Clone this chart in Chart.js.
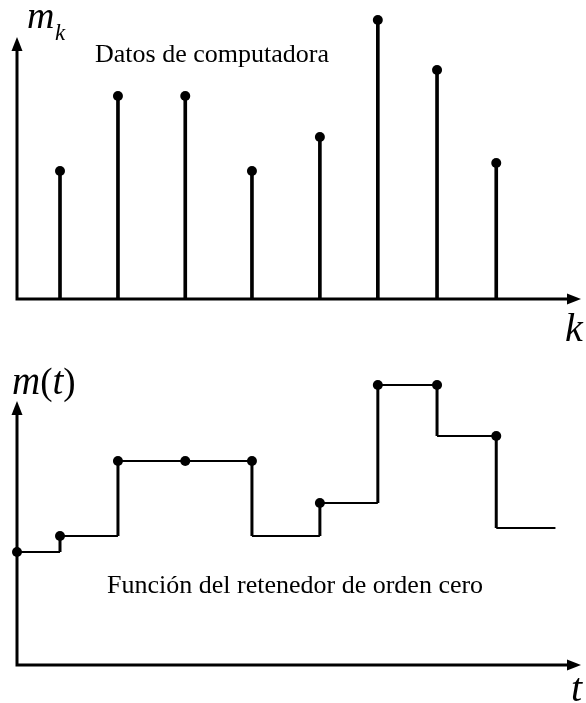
<!DOCTYPE html>
<html>
<head>
<meta charset="utf-8">
<script src="https://cdn.jsdelivr.net/npm/chart.js@4.4.0/dist/chart.umd.min.js"></script>
<style>
  body { margin: 0; background: #fff; }
  canvas { position: absolute; left: 0; }
  #topChart { top: 0; }
  #holdChart { top: 350px; }
</style>
</head>
<body>
<canvas id="topChart" width="586" height="350"></canvas>
<canvas id="holdChart" width="586" height="353"></canvas>
<script>
// muestras de la computadora (instante k, valor m_k)
const sampleT = [0.69, 1.62, 2.70, 3.77, 4.86, 5.79, 6.74, 7.69]
const sampleM = [6.4, 10.15, 10.15, 6.4, 8.1, 13.95, 11.45, 6.8]

// retenedor de orden cero: instantes y nivel mantenido desde cada instante
const holdT = [0, 0.69, 1.62, 2.70, 3.77, 4.86, 5.79, 6.74, 7.69, 8.64]
const holdM = [5.65, 6.45, 10.2, 10.2, 6.45, 8.1, 14.0, 11.45, 6.85, 6.85]
// puntos marcados en la curva (tal como aparecen en el dibujo)
const holdDotM = [5.65, 6.45, 10.2, 10.2, 10.2, 8.1, 14.0, 14.0, 11.45]

const serif = "'Liberation Serif', 'Times New Roman', serif"

// escalera: tramo horizontal y luego salto vertical
const stepPoints = []
holdT.forEach((t, i) => {
    if (i > 0) stepPoints.push({ x: t, y: holdM[i - 1] })
    stepPoints.push({ x: t, y: holdM[i] })
})

const axesArrows = {
    id: 'axesArrows',
    beforeDatasetsDraw(chart, args, opts) {
        const ctx = chart.ctx
        const x0 = chart.scales.x.getPixelForValue(0)
        const y0 = chart.scales.y.getPixelForValue(0)
        const xTip = chart.scales.x.getPixelForValue(opts.xTip)
        const yTip = chart.scales.y.getPixelForValue(opts.yTip)
        ctx.save()
        ctx.strokeStyle = '#000'
        ctx.fillStyle = '#000'
        ctx.lineWidth = 3
        ctx.beginPath()
        ctx.moveTo(x0 - 1.5, y0)
        ctx.lineTo(xTip - 10, y0)
        ctx.moveTo(x0, y0)
        ctx.lineTo(x0, yTip + 10)
        ctx.stroke()
        ctx.beginPath()
        ctx.moveTo(xTip, y0)
        ctx.lineTo(xTip - 14, y0 - 5.5)
        ctx.lineTo(xTip - 14, y0 + 5.5)
        ctx.closePath()
        ctx.fill()
        ctx.beginPath()
        ctx.moveTo(x0, yTip)
        ctx.lineTo(x0 - 5.5, yTip + 14)
        ctx.lineTo(x0 + 5.5, yTip + 14)
        ctx.closePath()
        ctx.fill()
        ctx.restore()
    },
    afterDraw(chart, args, opts) {
        const ctx = chart.ctx
        ctx.save()
        ctx.fillStyle = '#000'
        ctx.textBaseline = 'alphabetic'
        opts.labels.forEach(l => {
            // cada etiqueta puede ir en varios tramos (cursiva / recta)
            let x = l.x
            l.runs.forEach(r => {
                ctx.font = r[1]
                ctx.fillText(r[0], x, l.y)
                x += ctx.measureText(r[0]).width
            })
        })
        ctx.restore()
    }
}

const baseOptions = (padding, tips, labels) => ({
    responsive: false,
    animation: false,
    events: [],
    layout: { padding },
    scales: {
        x: { type: 'linear', min: 0, max: 9.05, offset: false, display: false },
        y: { type: 'linear', min: 0, max: 14.5, display: false }
    },
    plugins: {
        legend: { display: false },
        tooltip: { enabled: false },
        axesArrows: { xTip: tips[0], yTip: tips[1], labels }
    }
})

const it = 'italic 39px ' + serif
const up = '37px ' + serif

new Chart(document.getElementById('topChart'), {
    type: 'bar',
    data: {
        datasets: [{
            type: 'line',
            data: sampleT.map((t, i) => ({ x: t, y: sampleM[i] })),
            showLine: false,
            pointRadius: 5,
            pointBackgroundColor: '#000',
            pointBorderWidth: 0,
            clip: false
        }, {
            data: sampleT.map((t, i) => ({ x: t, y: sampleM[i] })),
            backgroundColor: '#000',
            borderWidth: 0,
            barThickness: 3,
            grouped: false,
            clip: false
        }]
    },
    options: baseOptions({ left: 17, right: 5, top: 9, bottom: 51 }, [9.05, 13.1], [
        { x: 27, y: 28, runs: [['m', 'italic 38px ' + serif]] },
        { x: 55, y: 40, runs: [['k', 'italic 23px ' + serif]] },
        { x: 95, y: 62, runs: [['Datos de computadora', '26px ' + serif]] },
        { x: 565, y: 341, runs: [['k', 'italic 40px ' + serif]] }
    ]),
    plugins: [axesArrows]
})

new Chart(document.getElementById('holdChart'), {
    type: 'line',
    data: {
        datasets: [{
            data: holdT.slice(0, holdDotM.length).map((t, i) => ({ x: t, y: holdDotM[i] })),
            showLine: false,
            pointRadius: 5,
            pointBackgroundColor: '#000',
            pointBorderWidth: 0,
            clip: false
        }, {
            data: stepPoints,
            borderColor: '#000',
            borderWidth: 1.8,
            pointRadius: 0,
            segment: {
                borderWidth: c => c.p0.parsed.x === c.p1.parsed.x ? 3 : 1.8
            },
            clip: false
        }]
    },
    options: baseOptions({ left: 17, right: 5, top: 25, bottom: 38 }, [9.05, 13.2], [
        { x: 12, y: 44, runs: [['m', it], ['(', up], ['t', it], [')', up]] },
        { x: 107, y: 243, runs: [['Función del retenedor de orden cero', '26px ' + serif]] },
        { x: 571, y: 351, runs: [['t', 'italic 40px ' + serif]] }
    ]),
    plugins: [axesArrows]
})
</script>
</body>
</html>
